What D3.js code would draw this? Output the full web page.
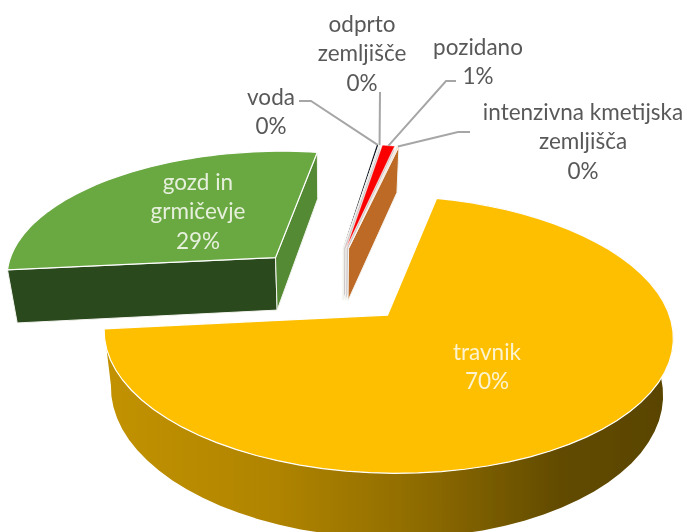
<!DOCTYPE html>
<html>
<head>
<meta charset="utf-8">
<script src="https://cdn.jsdelivr.net/npm/d3@7"></script>
<style>
  html, body { margin: 0; background: #fff; }
  text { font-family: Lato, "Open Sans", sans-serif; font-size: 22.5px; }
</style>
</head>
<body>
<div id="chart"></div>
<script>
// data, in pie order (clockwise from the first slice)
const categories = ['travnik', 'gozd in grmičevje', 'voda', 'odprto zemljišče', 'pozidano', 'intenzivna kmetijska zemljišča'];
const shares = [69.8, 29.0, 0.1, 0.1, 0.85, 0.15];

const labelLines = [['travnik'], ['gozd in', 'grmičevje'], ['voda'], ['odprto', 'zemljišče'], ['pozidano'], ['intenzivna kmetijska', 'zemljišča']];
const labelCentreX = [487, 198, 271, 362, 478, 583];
const labelTopY = [352, 182, 97, 24, 47, 112];
const labelColors = ['#fdf3d0', '#e6f0dc', '#595959', '#595959', '#595959', '#595959'];

const topColors = ['#fdbf00', '#6aa843', '#0c1420', '#eeeeee', '#fa0505', '#f6e4d6'];
const faceColors = ['#a67c00', '#2b4a1e', '#cfc8c8', '#cfc8c8', '#cfc8c8', '#cfc8c8'];
const endFaceColors = ['#a67c00', '#558a36', '#cfc8c8', '#cfc8c8', '#cfc8c8', '#bd6b26'];
const topStrokes = [1.2, 1.2, 0, 0, 0.4, 0.4];

// leader elbows for the outside labels: [label end, elbow]
const leaderPoints = {
  2: [[299, 101], [311, 101]],
  3: [[380, 92], [380, 92]],
  4: [[456, 81], [446, 81]],
  5: [[470, 132], [458, 132]]
};

const width = 687, height = 532;

// the pie lies on a tilted plane, seen in perspective
const cx = 331, cy = 285;
const radius = 273, explode = 83, depth = 54;
const tilt = 0.468, camera = 2012, converge = 0.03;
const firstAngle = 13 * Math.PI / 180;

const arcs = d3.pie().sort(null)
  .startAngle(firstAngle)
  .endAngle(firstAngle + 2 * Math.PI)(shares);

// world position on the pie plane to screen. drop = how far down the side wall
function project(a, r, mid, drop) {
  const X = r * Math.sin(a) + explode * Math.sin(mid);
  const Z = r * Math.cos(a) + explode * Math.cos(mid);
  const s = camera / (camera + Z);
  return [cx + X * s * (1 - converge * drop), cy - tilt * Z * s + drop * depth * s];
}

function rim(d, drop) {
  const mid = (d.startAngle + d.endAngle) / 2;
  return d3.range(0, 61).map(i => {
    const a = d.startAngle + (d.endAngle - d.startAngle) * i / 60;
    return project(a, radius, mid, drop);
  });
}

const line = d3.line();
const svg = d3.select('#chart').append('svg')
  .attr('width', width).attr('height', height)
  .style('display', 'block');

const defs = svg.append('defs');
defs.append('filter').attr('id', 'soft')
  .append('feGaussianBlur').attr('stdDeviation', 0.45);

// travnik wall is shaded left to right
const wallExtent = d3.extent(rim(arcs[0], 0), p => p[0]);
const wallGrad = defs.append('linearGradient').attr('id', 'wallGrad')
  .attr('gradientUnits', 'userSpaceOnUse')
  .attr('x1', wallExtent[0]).attr('x2', wallExtent[1])
  .attr('y1', 0).attr('y2', 0);
[[0, '#c29200'], [0.3, '#b08400'], [0.55, '#8f6c00'], [0.8, '#624b00'], [1, '#594400']].forEach(s => {
  wallGrad.append('stop').attr('offset', s[0]).attr('stop-color', s[1]);
});

const marks = svg.append('g').attr('filter', 'url(#soft)');

arcs.forEach((d, i) => {
  const mid = (d.startAngle + d.endAngle) / 2;
  const apex = project(0, 0, mid, 0), apexLow = project(0, 0, mid, 1);
  const top = rim(d, 0), low = rim(d, 1);
  const first = top[0], firstLow = low[0], last = top[60], lastLow = low[60];
  const g = marks.append('g').attr('class', 'slice');

  // outer wall, only the big slice shows it
  if (i === 0) {
    g.append('path')
      .attr('d', line(top.concat(low.slice().reverse())) + 'Z')
      .attr('fill', 'url(#wallGrad)');
  }
  // cut faces
  if (i !== 0) {
    g.append('path')
      .attr('d', line([apex, first, firstLow, apexLow]) + 'Z')
      .attr('fill', faceColors[i])
      .attr('stroke', '#f4f4f0').attr('stroke-width', 1);
    g.append('path')
      .attr('d', line([apex, last, lastLow, apexLow]) + 'Z')
      .attr('fill', endFaceColors[i])
      .attr('stroke', '#f4f4f0').attr('stroke-width', 1);
  }
  // top surface
  g.append('path')
    .attr('d', line([apex].concat(top)) + 'Z')
    .attr('fill', topColors[i])
    .attr('stroke', topStrokes[i] ? '#fff' : 'none')
    .attr('stroke-width', topStrokes[i]);
});

// leader lines for the thin slices
Object.keys(leaderPoints).forEach(k => {
  const i = +k, d = arcs[i];
  const mid = (d.startAngle + d.endAngle) / 2;
  const pts = leaderPoints[k].concat([project(mid, radius, mid, 0)]);
  marks.append('path')
    .attr('d', line(pts))
    .attr('fill', 'none')
    .attr('stroke', '#a6a6a6')
    .attr('stroke-width', 2);
});

// labels: name lines then rounded percent
const lineStep = 29.5;
const labels = svg.append('g').attr('filter', 'url(#soft)');
categories.forEach((c, i) => {
  const rows = labelLines[i].concat([Math.round(shares[i]) + '%']);
  rows.forEach((t, j) => {
    labels.append('text')
      .attr('x', labelCentreX[i])
      .attr('y', labelTopY[i] + j * lineStep)
      .attr('dy', '0.35em')
      .attr('text-anchor', 'middle')
      .attr('fill', labelColors[i])
      .text(t);
  });
});
</script>
</body>
</html>
